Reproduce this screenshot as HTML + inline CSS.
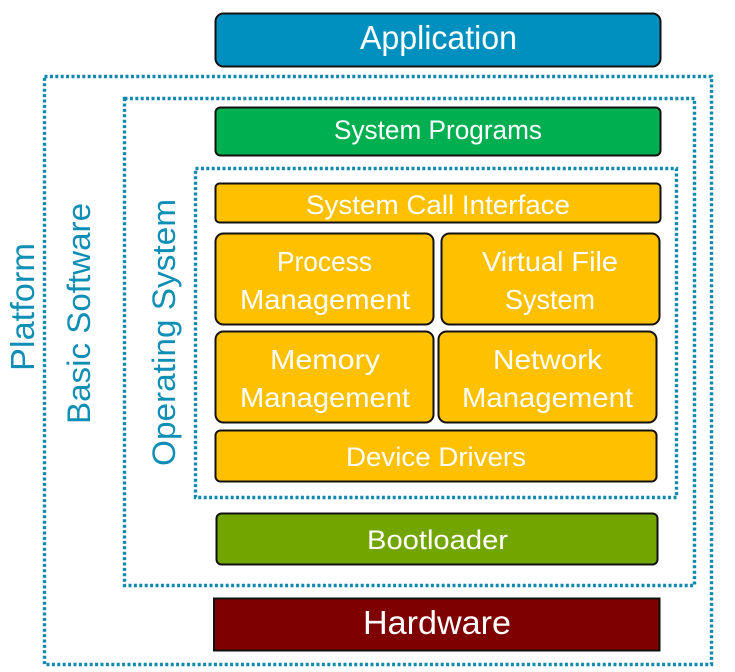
<!DOCTYPE html>
<html>
<head>
<meta charset="utf-8">
<style>
html,body{margin:0;padding:0;background:#fff;}
svg{display:block;}
text{font-family:"Liberation Sans",sans-serif;}
.w{fill:#fff;}
.b{fill:#0f8fb5;}
.box{stroke:#111;stroke-width:2;}
.dot{fill:none;stroke:#1089ad;stroke-width:3.4;stroke-dasharray:3 2.4;}
</style>
</head>
<body>
<svg width="735" height="672" viewBox="0 0 735 672" xmlns="http://www.w3.org/2000/svg">
<rect width="735" height="672" fill="#fff"/>
<rect class="dot" x="44.5" y="76.5" width="667" height="588"/>
<rect class="dot" x="124.5" y="98.5" width="570" height="487"/>
<rect class="dot" x="195.5" y="168.5" width="481" height="329"/>

<rect class="box" x="215.5" y="13.5" width="445" height="53" rx="8" fill="#0090bf"/>
<rect class="box" x="215.5" y="107.5" width="445" height="48" rx="5" fill="#00b050"/>
<rect class="box" x="215.5" y="183.5" width="445" height="39" rx="4" fill="#ffc000"/>
<rect class="box" x="215.5" y="233.5" width="218" height="91" rx="8" fill="#ffc000"/>
<rect class="box" x="441.5" y="233.5" width="218" height="91" rx="8" fill="#ffc000"/>
<rect class="box" x="215.5" y="331.5" width="218" height="91" rx="8" fill="#ffc000"/>
<rect class="box" x="438.5" y="331.5" width="218" height="91" rx="8" fill="#ffc000"/>
<rect class="box" x="215.5" y="430.5" width="441" height="51" rx="5" fill="#ffc000"/>
<rect class="box" x="216.5" y="513.5" width="441" height="51" rx="5" fill="#73a500"/>
<rect class="box" x="214" y="598.5" width="445.5" height="52" fill="#7f0000"/>

<text class="w" x="360" y="49" font-size="33" textLength="157" lengthAdjust="spacingAndGlyphs">Application</text>
<text class="w" x="334" y="139" font-size="27" textLength="208" lengthAdjust="spacingAndGlyphs">System Programs</text>
<text class="w" x="306" y="214" font-size="27" textLength="264" lengthAdjust="spacingAndGlyphs">System Call Interface</text>
<text class="w" x="277" y="271" font-size="28" textLength="95" lengthAdjust="spacingAndGlyphs">Process</text>
<text class="w" x="240" y="309" font-size="28" textLength="170" lengthAdjust="spacingAndGlyphs">Management</text>
<text class="w" x="482" y="271" font-size="28" textLength="136" lengthAdjust="spacingAndGlyphs">Virtual File</text>
<text class="w" x="505" y="309" font-size="28" textLength="90" lengthAdjust="spacingAndGlyphs">System</text>
<text class="w" x="270" y="369" font-size="28" textLength="110" lengthAdjust="spacingAndGlyphs">Memory</text>
<text class="w" x="240" y="407" font-size="28" textLength="170" lengthAdjust="spacingAndGlyphs">Management</text>
<text class="w" x="493" y="369" font-size="28" textLength="109" lengthAdjust="spacingAndGlyphs">Network</text>
<text class="w" x="462" y="407" font-size="28" textLength="171" lengthAdjust="spacingAndGlyphs">Management</text>
<text class="w" x="346" y="466" font-size="27" textLength="180" lengthAdjust="spacingAndGlyphs">Device Drivers</text>
<text class="w" x="367" y="549" font-size="27" textLength="141" lengthAdjust="spacingAndGlyphs">Bootloader</text>
<text class="w" x="363" y="634" font-size="33" textLength="148" lengthAdjust="spacingAndGlyphs">Hardware</text>

<text class="b" transform="translate(34 371) rotate(-90)" font-size="33" textLength="128" lengthAdjust="spacingAndGlyphs">Platform</text>
<text class="b" transform="translate(90 424) rotate(-90)" font-size="32" textLength="221" lengthAdjust="spacingAndGlyphs">Basic Software</text>
<text class="b" transform="translate(175 466) rotate(-90)" font-size="32" textLength="267" lengthAdjust="spacingAndGlyphs">Operating System</text>
</svg>
</body>
</html>
